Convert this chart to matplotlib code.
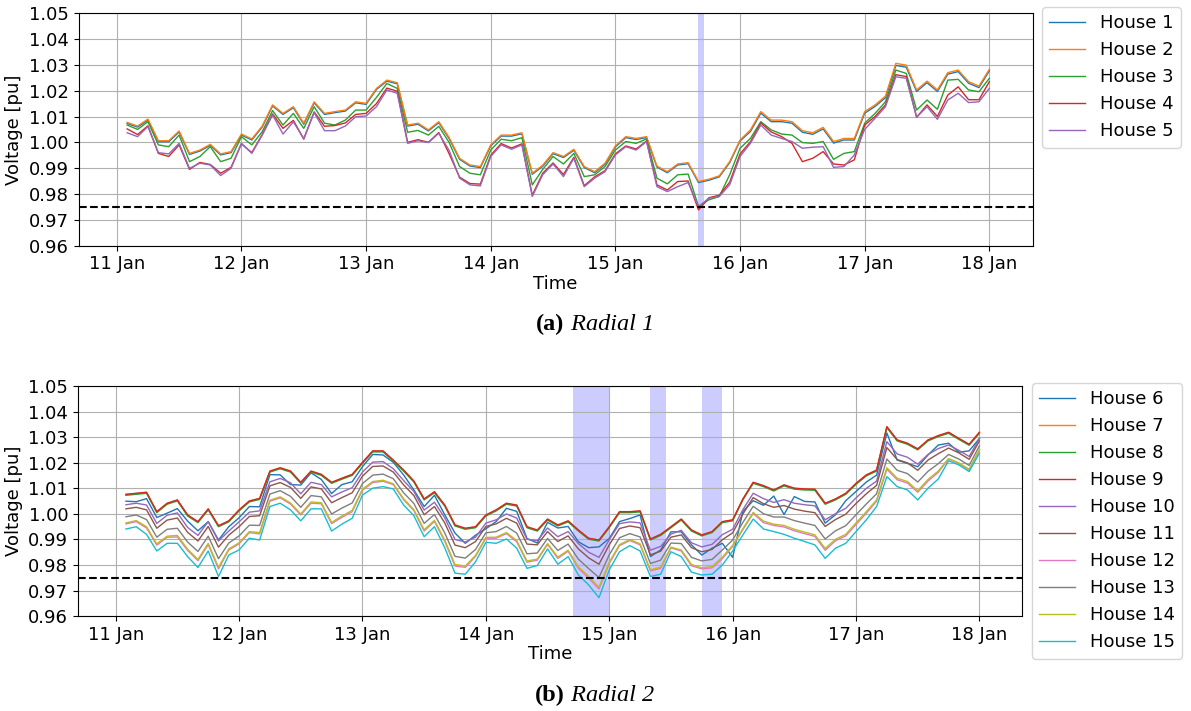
import pandas as pd
import matplotlib
matplotlib.use("Agg")
import matplotlib.pyplot as plt
import matplotlib.dates as mdates

# two-hourly samples from 11 Jan 02:00 to 18 Jan 00:00
times = pd.date_range("2019-01-11 02:00", "2019-01-18 00:00", freq="2h")
v_min_limit = 0.975

# Radial 1 feeder voltages [pu]
house1 = [1.0073, 1.0059, 1.0086, 1.0002, 1.0002, 1.0040, 0.9953, 0.9966, 0.9988, 0.9951, 0.9960, 1.0028,
          1.0009, 1.0059, 1.0141, 1.0108, 1.0134, 1.0070, 1.0153, 1.0108, 1.0115, 1.0121, 1.0153, 1.0147,
          1.0205, 1.0237, 1.0227, 1.0063, 1.0070, 1.0044, 1.0076, 1.0014, 0.9934, 0.9908, 0.9902, 0.9986,
          1.0024, 1.0024, 1.0033, 0.9876, 0.9907, 0.9956, 0.9941, 0.9969, 0.9902, 0.9882, 0.9915, 0.9982,
          1.0018, 1.0011, 1.0018, 0.9904, 0.9882, 0.9912, 0.9917, 0.9844, 0.9853, 0.9866, 0.9921, 1.0005,
          1.0042, 1.0113, 1.0080, 1.0080, 1.0074, 1.0039, 1.0031, 1.0052, 0.9997, 1.0009, 1.0009, 1.0113,
          1.0139, 1.0173, 1.0298, 1.0291, 1.0197, 1.0231, 1.0197, 1.0264, 1.0274, 1.0229, 1.0212, 1.0277]
house2 = [1.0077, 1.0063, 1.0090, 1.0006, 1.0006, 1.0044, 0.9957, 0.9970, 0.9992, 0.9955, 0.9964, 1.0032,
          1.0013, 1.0063, 1.0145, 1.0112, 1.0138, 1.0074, 1.0157, 1.0112, 1.0119, 1.0125, 1.0157, 1.0151,
          1.0209, 1.0241, 1.0231, 1.0067, 1.0074, 1.0048, 1.0080, 1.0018, 0.9938, 0.9912, 0.9906, 0.9990,
          1.0028, 1.0028, 1.0037, 0.9880, 0.9911, 0.9960, 0.9945, 0.9973, 0.9906, 0.9886, 0.9919, 0.9986,
          1.0022, 1.0015, 1.0022, 0.9908, 0.9886, 0.9916, 0.9921, 0.9848, 0.9857, 0.9870, 0.9925, 1.0009,
          1.0048, 1.0119, 1.0086, 1.0086, 1.0080, 1.0045, 1.0037, 1.0058, 1.0003, 1.0015, 1.0015, 1.0119,
          1.0145, 1.0179, 1.0306, 1.0299, 1.0203, 1.0237, 1.0203, 1.0270, 1.0280, 1.0235, 1.0218, 1.0283]
house3 = [1.0067, 1.0050, 1.0080, 0.9990, 0.9983, 1.0028, 0.9925, 0.9945, 0.9983, 0.9925, 0.9938, 1.0022,
          0.9990, 1.0041, 1.0123, 1.0067, 1.0112, 1.0054, 1.0138, 1.0074, 1.0067, 1.0086, 1.0125, 1.0125,
          1.0174, 1.0228, 1.0209, 1.0039, 1.0046, 1.0028, 1.0062, 0.9999, 0.9906, 0.9880, 0.9874, 0.9970,
          1.0012, 1.0006, 1.0018, 0.9835, 0.9895, 0.9945, 0.9916, 0.9957, 0.9867, 0.9874, 0.9906, 0.9970,
          1.0003, 0.9996, 1.0013, 0.9861, 0.9839, 0.9874, 0.9877, 0.9752, 0.9777, 0.9790, 0.9874, 0.9977,
          1.0015, 1.0080, 1.0048, 1.0032, 1.0028, 0.9999, 0.9996, 1.0003, 0.9934, 0.9957, 0.9964, 1.0074,
          1.0112, 1.0157, 1.0280, 1.0267, 1.0125, 1.0164, 1.0128, 1.0241, 1.0244, 1.0203, 1.0196, 1.0248]
house4 = [1.0052, 1.0030, 1.0064, 0.9957, 0.9945, 0.9990, 0.9895, 0.9922, 0.9914, 0.9880, 0.9903, 0.9994,
          0.9960, 1.0030, 1.0110, 1.0054, 1.0085, 1.0012, 1.0118, 1.0062, 1.0065, 1.0075, 1.0108, 1.0112,
          1.0150, 1.0210, 1.0198, 1.0000, 1.0010, 1.0000, 1.0038, 0.9955, 0.9865, 0.9840, 0.9838, 0.9950,
          0.9995, 0.9978, 0.9994, 0.9795, 0.9880, 0.9920, 0.9875, 0.9942, 0.9832, 0.9866, 0.9890, 0.9955,
          0.9986, 0.9974, 1.0005, 0.9835, 0.9815, 0.9848, 0.9850, 0.9738, 0.9785, 0.9795, 0.9845, 0.9955,
          1.0002, 1.0075, 1.0040, 1.0022, 0.9996, 0.9925, 0.9938, 0.9964, 0.9916, 0.9912, 0.9932, 1.0067,
          1.0100, 1.0145, 1.0262, 1.0255, 1.0097, 1.0145, 1.0100, 1.0183, 1.0215, 1.0165, 1.0165, 1.0235]
house5 = [1.0037, 1.0022, 1.0061, 0.9960, 0.9955, 0.9996, 0.9899, 0.9919, 0.9912, 0.9871, 0.9899, 0.9996,
          0.9957, 1.0028, 1.0106, 1.0032, 1.0079, 1.0015, 1.0115, 1.0045, 1.0045, 1.0063, 1.0099, 1.0102,
          1.0138, 1.0203, 1.0190, 0.9996, 1.0006, 0.9999, 1.0035, 0.9968, 0.9861, 0.9835, 0.9831, 0.9945,
          0.9990, 0.9973, 0.9990, 0.9790, 0.9874, 0.9916, 0.9867, 0.9938, 0.9828, 0.9861, 0.9886, 0.9951,
          0.9983, 0.9970, 1.0003, 0.9828, 0.9809, 0.9828, 0.9844, 0.9751, 0.9783, 0.9790, 0.9835, 0.9945,
          0.9996, 1.0067, 1.0028, 1.0015, 1.0003, 0.9977, 0.9981, 0.9983, 0.9903, 0.9906, 0.9951, 1.0050,
          1.0093, 1.0138, 1.0254, 1.0248, 1.0097, 1.0138, 1.0089, 1.0164, 1.0190, 1.0154, 1.0157, 1.0209]

# Radial 2 feeder voltages [pu]
house6 = [1.0050, 1.0048, 1.0060, 0.9986, 1.0003, 1.0021, 0.9972, 0.9934, 0.9970, 0.9898, 0.9950, 0.9985,
          1.0029, 1.0028, 1.0154, 1.0153, 1.0115, 1.0113, 1.0161, 1.0135, 1.0080, 1.0115, 1.0126, 1.0185,
          1.0233, 1.0231, 1.0202, 1.0153, 1.0094, 1.0029, 1.0073, 0.9997, 0.9925, 0.9885, 0.9917, 0.9942,
          0.9970, 1.0022, 1.0010, 0.9904, 0.9886, 0.9967, 0.9945, 0.9951, 0.9891, 0.9868, 0.9871, 0.9904,
          0.9970, 0.9982, 0.9996, 0.9833, 0.9859, 0.9930, 0.9930, 0.9879, 0.9839, 0.9866, 0.9885, 0.9830,
          1.0010, 1.0052, 1.0034, 1.0070, 0.9998, 1.0068, 1.0049, 1.0047, 0.9964, 0.9997, 1.0052, 1.0088,
          1.0125, 1.0152, 1.0317, 1.0211, 1.0198, 1.0185, 1.0231, 1.0270, 1.0277, 1.0242, 1.0247, 1.0296]
house7 = [1.0076, 1.0080, 1.0084, 1.0008, 1.0041, 1.0054, 0.9995, 0.9969, 1.0019, 0.9953, 0.9972, 1.0015,
          1.0050, 1.0060, 1.0167, 1.0180, 1.0167, 1.0123, 1.0167, 1.0154, 1.0123, 1.0139, 1.0154, 1.0201,
          1.0246, 1.0246, 1.0210, 1.0171, 1.0128, 1.0058, 1.0086, 1.0034, 0.9956, 0.9943, 0.9949, 0.9995,
          1.0015, 1.0041, 1.0034, 0.9949, 0.9936, 0.9979, 0.9956, 0.9972, 0.9936, 0.9904, 0.9897, 0.9949,
          1.0008, 1.0008, 1.0011, 0.9901, 0.9919, 0.9949, 0.9979, 0.9936, 0.9917, 0.9930, 0.9969, 0.9976,
          1.0058, 1.0123, 1.0110, 1.0093, 1.0113, 1.0100, 1.0097, 1.0096, 1.0041, 1.0058, 1.0080, 1.0119,
          1.0152, 1.0171, 1.0341, 1.0289, 1.0276, 1.0254, 1.0289, 1.0306, 1.0319, 1.0295, 1.0272, 1.0319]
house8 = [1.0073, 1.0077, 1.0081, 1.0005, 1.0038, 1.0051, 0.9992, 0.9966, 1.0016, 0.9950, 0.9969, 1.0012,
          1.0047, 1.0057, 1.0164, 1.0177, 1.0164, 1.0120, 1.0164, 1.0151, 1.0120, 1.0136, 1.0151, 1.0198,
          1.0243, 1.0243, 1.0207, 1.0168, 1.0125, 1.0055, 1.0083, 1.0031, 0.9953, 0.9940, 0.9946, 0.9992,
          1.0012, 1.0038, 1.0031, 0.9946, 0.9933, 0.9976, 0.9953, 0.9969, 0.9933, 0.9901, 0.9894, 0.9946,
          1.0005, 1.0005, 1.0008, 0.9898, 0.9916, 0.9946, 0.9976, 0.9933, 0.9914, 0.9927, 0.9966, 0.9973,
          1.0055, 1.0120, 1.0107, 1.0090, 1.0110, 1.0097, 1.0094, 1.0093, 1.0038, 1.0055, 1.0077, 1.0116,
          1.0149, 1.0168, 1.0338, 1.0286, 1.0273, 1.0251, 1.0286, 1.0303, 1.0316, 1.0292, 1.0269, 1.0316]
house9 = [1.0077, 1.0081, 1.0085, 1.0009, 1.0042, 1.0055, 0.9996, 0.9970, 1.0020, 0.9954, 0.9973, 1.0016,
          1.0051, 1.0061, 1.0168, 1.0181, 1.0168, 1.0124, 1.0168, 1.0155, 1.0124, 1.0140, 1.0155, 1.0202,
          1.0247, 1.0247, 1.0211, 1.0172, 1.0129, 1.0059, 1.0087, 1.0035, 0.9957, 0.9944, 0.9950, 0.9996,
          1.0016, 1.0042, 1.0035, 0.9950, 0.9937, 0.9980, 0.9957, 0.9973, 0.9937, 0.9905, 0.9898, 0.9950,
          1.0009, 1.0009, 1.0012, 0.9902, 0.9920, 0.9950, 0.9980, 0.9937, 0.9918, 0.9931, 0.9970, 0.9977,
          1.0059, 1.0124, 1.0111, 1.0094, 1.0114, 1.0101, 1.0098, 1.0097, 1.0042, 1.0059, 1.0081, 1.0120,
          1.0153, 1.0172, 1.0342, 1.0290, 1.0277, 1.0255, 1.0290, 1.0307, 1.0320, 1.0296, 1.0273, 1.0320]
house10 = [1.0036, 1.0042, 1.0035, 0.9963, 0.9995, 1.0004, 0.9947, 0.9916, 0.9970, 0.9894, 0.9933, 0.9969,
           1.0007, 1.0012, 1.0126, 1.0139, 1.0122, 1.0079, 1.0124, 1.0115, 1.0067, 1.0086, 1.0103, 1.0164,
           1.0203, 1.0205, 1.0177, 1.0131, 1.0088, 1.0015, 1.0046, 0.9985, 0.9900, 0.9890, 0.9909, 0.9964,
           0.9977, 1.0000, 0.9984, 0.9901, 0.9895, 0.9945, 0.9911, 0.9931, 0.9884, 0.9850, 0.9830, 0.9899,
           0.9962, 0.9969, 0.9965, 0.9858, 0.9873, 0.9921, 0.9936, 0.9887, 0.9871, 0.9881, 0.9919, 0.9940,
           1.0017, 1.0081, 1.0060, 1.0045, 1.0056, 1.0042, 1.0036, 1.0032, 0.9977, 1.0001, 1.0022, 1.0063,
           1.0100, 1.0129, 1.0283, 1.0235, 1.0222, 1.0195, 1.0233, 1.0256, 1.0270, 1.0249, 1.0225, 1.0295]
house11 = [1.0020, 1.0026, 1.0016, 0.9944, 0.9976, 0.9984, 0.9928, 0.9894, 0.9951, 0.9870, 0.9917, 0.9950,
           0.9990, 0.9993, 1.0110, 1.0123, 1.0104, 1.0061, 1.0106, 1.0098, 1.0044, 1.0064, 1.0083, 1.0148,
           1.0186, 1.0188, 1.0164, 1.0114, 1.0072, 0.9997, 1.0029, 0.9965, 0.9878, 0.9868, 0.9892, 0.9951,
           0.9961, 0.9983, 0.9964, 0.9882, 0.9879, 0.9931, 0.9892, 0.9914, 0.9863, 0.9828, 0.9803, 0.9879,
           0.9943, 0.9953, 0.9946, 0.9840, 0.9854, 0.9909, 0.9918, 0.9868, 0.9852, 0.9861, 0.9899, 0.9926,
           1.0000, 1.0064, 1.0040, 1.0026, 1.0033, 1.0019, 1.0011, 1.0005, 0.9951, 0.9978, 0.9999, 1.0041,
           1.0079, 1.0112, 1.0260, 1.0213, 1.0200, 1.0171, 1.0211, 1.0236, 1.0258, 1.0239, 1.0214, 1.0286]
house12 = [0.9961, 0.9970, 0.9945, 0.9878, 0.9909, 0.9910, 0.9857, 0.9817, 0.9880, 0.9785, 0.9859, 0.9883,
           0.9927, 0.9922, 1.0050, 1.0063, 1.0039, 0.9996, 1.0042, 1.0040, 0.9962, 0.9987, 1.0009, 1.0093,
           1.0123, 1.0128, 1.0115, 1.0056, 1.0013, 0.9933, 0.9971, 0.9893, 0.9796, 0.9791, 0.9834, 0.9905,
           0.9905, 0.9923, 0.9891, 0.9811, 0.9819, 0.9881, 0.9826, 0.9854, 0.9787, 0.9749, 0.9706, 0.9806,
           0.9876, 0.9896, 0.9879, 0.9777, 0.9787, 0.9867, 0.9855, 0.9797, 0.9785, 0.9789, 0.9825, 0.9873,
           0.9939, 1.0002, 0.9966, 0.9955, 0.9949, 0.9934, 0.9923, 0.9912, 0.9858, 0.9895, 0.9914, 0.9959,
           1.0003, 1.0050, 1.0175, 1.0134, 1.0121, 1.0085, 1.0129, 1.0163, 1.0215, 1.0198, 1.0172, 1.0250]
house13 = [0.9989, 0.9996, 0.9978, 0.9909, 0.9940, 0.9944, 0.9890, 0.9853, 0.9913, 0.9825, 0.9886, 0.9914,
           0.9956, 0.9955, 1.0078, 1.0091, 1.0069, 1.0026, 1.0072, 1.0067, 1.0000, 1.0023, 1.0043, 1.0119,
           1.0152, 1.0156, 1.0138, 1.0083, 1.0041, 0.9963, 0.9998, 0.9926, 0.9834, 0.9827, 0.9861, 0.9926,
           0.9931, 0.9951, 0.9925, 0.9844, 0.9847, 0.9904, 0.9857, 0.9882, 0.9823, 0.9786, 0.9751, 0.9840,
           0.9907, 0.9923, 0.9910, 0.9806, 0.9819, 0.9886, 0.9884, 0.9830, 0.9816, 0.9822, 0.9859, 0.9898,
           0.9967, 1.0030, 1.0001, 0.9988, 0.9988, 0.9974, 0.9964, 0.9955, 0.9902, 0.9934, 0.9954, 0.9997,
           1.0039, 1.0079, 1.0215, 1.0171, 1.0158, 1.0125, 1.0167, 1.0197, 1.0233, 1.0215, 1.0190, 1.0267]
house14 = [0.9965, 0.9974, 0.9950, 0.9883, 0.9913, 0.9916, 0.9862, 0.9822, 0.9885, 0.9791, 0.9863, 0.9887,
           0.9931, 0.9927, 1.0054, 1.0067, 1.0043, 1.0000, 1.0047, 1.0044, 0.9967, 0.9992, 1.0014, 1.0097,
           1.0127, 1.0132, 1.0118, 1.0060, 1.0017, 0.9938, 0.9975, 0.9898, 0.9802, 0.9796, 0.9838, 0.9908,
           0.9909, 0.9927, 0.9896, 0.9816, 0.9823, 0.9884, 0.9831, 0.9858, 0.9793, 0.9755, 0.9713, 0.9811,
           0.9880, 0.9900, 0.9883, 0.9781, 0.9792, 0.9870, 0.9859, 0.9802, 0.9789, 0.9794, 0.9831, 0.9877,
           0.9943, 1.0006, 0.9972, 0.9960, 0.9955, 0.9940, 0.9929, 0.9918, 0.9865, 0.9901, 0.9920, 0.9965,
           1.0009, 1.0055, 1.0181, 1.0140, 1.0127, 1.0091, 1.0135, 1.0168, 1.0217, 1.0200, 1.0175, 1.0253]
house15 = [0.9941, 0.9950, 0.9920, 0.9855, 0.9885, 0.9885, 0.9833, 0.9790, 0.9855, 0.9755, 0.9839, 0.9859,
           0.9905, 0.9898, 1.0029, 1.0042, 1.0016, 0.9973, 1.0020, 1.0020, 0.9933, 0.9960, 0.9983, 1.0074,
           1.0101, 1.0107, 1.0098, 1.0035, 0.9993, 0.9911, 0.9950, 0.9868, 0.9768, 0.9764, 0.9813, 0.9889,
           0.9885, 0.9902, 0.9866, 0.9787, 0.9798, 0.9863, 0.9803, 0.9833, 0.9761, 0.9722, 0.9672, 0.9781,
           0.9852, 0.9876, 0.9855, 0.9755, 0.9764, 0.9852, 0.9833, 0.9772, 0.9761, 0.9764, 0.9800, 0.9855,
           0.9918, 0.9980, 0.9941, 0.9931, 0.9920, 0.9905, 0.9892, 0.9879, 0.9826, 0.9866, 0.9885, 0.9931,
           0.9977, 1.0029, 1.0146, 1.0107, 1.0094, 1.0055, 1.0101, 1.0137, 1.0208, 1.0192, 1.0166, 1.0238]

radial1 = [house1, house2, house3, house4, house5]
radial2 = [house6, house7, house8, house9, house10, house11, house12, house13, house14, house15]

# periods where a house drops under the lower voltage limit
violations1 = [("2019-01-15 16:00", "2019-01-15 17:00")]
violations2 = [("2019-01-14 17:00", "2019-01-15 00:00"),
               ("2019-01-15 08:00", "2019-01-15 11:00"),
               ("2019-01-15 18:00", "2019-01-15 22:00")]

plt.rcParams["font.size"] = 13

fig = plt.figure(figsize=(11.91, 7.11), dpi=100)
ax1 = fig.add_axes([0.0660, 0.6547, 0.8011, 0.3266])
ax2 = fig.add_axes([0.0654, 0.1335, 0.7930, 0.3232])


def draw_radial(ax, series, first_house, spans, legend_anchor):
    for k, v in enumerate(series):
        ax.plot(times, v, lw=1.0, label="House %d" % (first_house + k))
    for start, end in spans:
        ax.axvspan(pd.Timestamp(start), pd.Timestamp(end), color="blue", alpha=0.2, lw=0)
    ax.axhline(v_min_limit, color="k", ls="--", lw=1.5)
    ax.set_ylim(0.96, 1.05)
    ax.set_yticks([0.96 + 0.01 * i for i in range(10)])
    ax.set_xlim(pd.Timestamp("2019-01-10 16:39"), pd.Timestamp("2019-01-18 08:21"))
    ax.xaxis.set_major_locator(mdates.DayLocator())
    ax.xaxis.set_major_formatter(mdates.DateFormatter("%d %b"))
    ax.grid(True)
    ax.set_xlabel("Time", labelpad=1)
    ax.set_ylabel("Voltage [pu]")
    ax.legend(loc="upper left", bbox_to_anchor=legend_anchor, borderaxespad=0, fontsize=13)


draw_radial(ax1, radial1, 1, violations1, (1.0099, 1.027))
draw_radial(ax2, radial2, 6, violations2, (1.0103, 1.0144))

# sub-figure captions
serif = "Liberation Serif"
for y, tag, name in [(0.543, "(a)", " Radial 1"), (0.0225, "(b)", " Radial 2")]:
    fig.text(0.474, y, tag, ha="right", va="center", family=serif, weight="bold", fontsize=17.5)
    fig.text(0.474, y, name, ha="left", va="center", family=serif, style="italic", fontsize=17.5)

fig.savefig("out.png", dpi=100)
